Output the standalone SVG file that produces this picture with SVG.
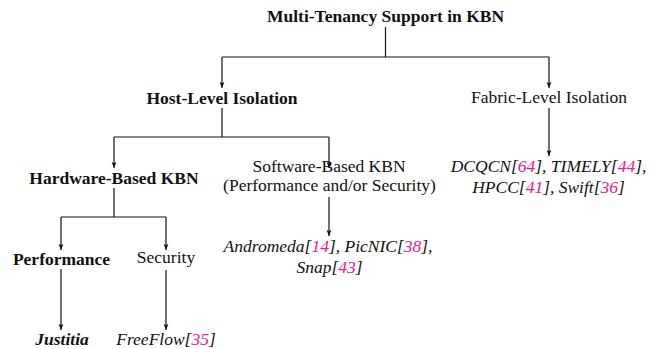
<svg xmlns="http://www.w3.org/2000/svg" width="658" height="349" viewBox="0 0 658 349">
  <style>
    .t { font-family: 'Liberation Serif', 'Times New Roman', Times, 'DejaVu Serif', serif; font-size: 17.5px; fill: #111; text-anchor: middle; }
    .b { font-weight: bold; }
    .i { font-style: italic; }
    .bi { font-weight: bold; font-style: italic; }
    .ref { fill: #e5208f; }
    .conn path { fill: none; stroke: #111; stroke-width: 1.2; }
  </style>
  <defs>
    <marker id="arr" markerUnits="userSpaceOnUse" markerWidth="8" markerHeight="8" refX="6" refY="3" orient="auto">
      <path d="M0,0.6 L6,3 L0,5.4 L1.2,3 z" fill="#111"/>
    </marker>
  </defs>
  <rect width="658" height="349" fill="#fff"/>

  <g class="conn" id="connectors">
    <path d="M385.5 27 V57"/>
    <path d="M222 57 H549"/>
    <path d="M222 57 V88" marker-end="url(#arr)"/>
    <path d="M549 57 V88" marker-end="url(#arr)"/>
    <path d="M222 108 V137"/>
    <path d="M114 137 H329"/>
    <path d="M114 137 V168" marker-end="url(#arr)"/>
    <path d="M329 137 V168" marker-end="url(#arr)"/>
    <path d="M549 108 V156" marker-end="url(#arr)"/>
    <path d="M114 188 V217"/>
    <path d="M61 217 H166"/>
    <path d="M61 217 V250" marker-end="url(#arr)"/>
    <path d="M166 217 V250" marker-end="url(#arr)"/>
    <path d="M329 197 V236" marker-end="url(#arr)"/>
    <path d="M61 269 V330" marker-end="url(#arr)"/>
    <path d="M166 270 V330" marker-end="url(#arr)"/>
  </g>

  <g font-family="Liberation Serif, Times New Roman, serif">
  <g id="root"><text class="t b" x="385.5" y="22">Multi-Tenancy Support in KBN</text></g>
  <g id="host"><text class="t b" x="222" y="104">Host-Level Isolation</text></g>
  <g id="fabric"><text class="t" x="549" y="103">Fabric-Level Isolation</text></g>
  <g id="fabric-works">
    <text class="t i" x="548.5" y="172">DCQCN[<tspan class="ref">64</tspan>], TIMELY[<tspan class="ref">44</tspan>],</text>
    <text class="t i" x="548.5" y="193">HPCC[<tspan class="ref">41</tspan>], Swift[<tspan class="ref">36</tspan>]</text>
  </g>
  <g id="hardware"><text class="t b" x="114" y="184">Hardware-Based KBN</text></g>
  <g id="software">
    <text class="t" x="329" y="172">Software-Based KBN</text>
    <text class="t" x="329.5" y="191">(Performance and/or Security)</text>
  </g>
  <g id="software-works">
    <text class="t i" x="328" y="252">Andromeda[<tspan class="ref">14</tspan>], PicNIC[<tspan class="ref">38</tspan>],</text>
    <text class="t i" x="329.5" y="273">Snap[<tspan class="ref">43</tspan>]</text>
  </g>
  <g id="performance"><text class="t b" x="61.5" y="265">Performance</text></g>
  <g id="security"><text class="t" x="166" y="263">Security</text></g>
  <g id="justitia"><text class="t bi" x="62" y="345">Justitia</text></g>
  <g id="freeflow"><text class="t i" x="166" y="345">FreeFlow[<tspan class="ref">35</tspan>]</text></g>
  </g>
</svg>
